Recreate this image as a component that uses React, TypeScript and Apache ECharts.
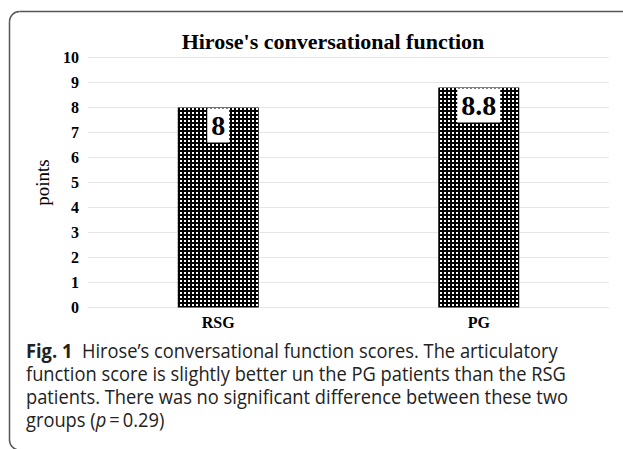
import React, { useEffect, useRef } from "react";
import * as echarts from "echarts";

const categories = ["RSG", "PG"];
const scores = [8, 8.8];
const yTicks = [0, 10, 1]; // min, max, interval
const titleText = "Hirose's conversational function";
const yName = "points";
const captionLines = [
  "{b|Fig. 1}  Hirose\u2019s conversational function scores. The articulatory",
  "function score is slightly better un the PG patients than the RSG",
  "patients. There was no significant difference between these two",
  "groups ({i|p}\u2009=\u20090.29)",
];

export default function App() {
  const ref = useRef<HTMLDivElement>(null);
  useEffect(() => {
    if (!ref.current) return;
    const chart = echarts.init(ref.current, null, { renderer: "svg" });
    const serif = "Liberation Serif";
    const sans = "Open Sans";
    const capY = [351, 374, 397, 420];
    const capScale = 0.915;
    const capSize = 20;
    const frame = { stroke: "#555", lineWidth: 1.5, fill: "none" };
    chart.setOption({
      animation: false,
      backgroundColor: "#fff",
      title: {
        text: titleText,
        left: 328,
        top: 25,
        textAlign: "center",
        textStyle: { fontFamily: serif, fontWeight: "bold", fontSize: 22, color: "#000" },
      },
      grid: { left: 88, right: 14, top: 57.5, bottom: 141.5 },
      xAxis: {
        type: "category",
        data: categories,
        axisLine: { show: true, lineStyle: { color: "#e6e6e6" } },
        axisTick: { show: false },
        axisLabel: { fontFamily: serif, fontWeight: "bold", fontSize: 16, color: "#000", margin: 7 },
      },
      yAxis: {
        type: "value",
        min: yTicks[0],
        max: yTicks[1],
        interval: yTicks[2],
        name: yName,
        nameLocation: "middle",
        nameGap: 35,
        nameTextStyle: { fontFamily: serif, fontSize: 19, color: "#000" },
        axisLine: { show: false },
        axisTick: { show: false },
        splitLine: { lineStyle: { color: "#e6e6e6" } },
        axisLabel: { fontFamily: serif, fontWeight: "bold", fontSize: 16, color: "#000", margin: 9 },
      },
      series: [
        {
          type: "bar",
          data: scores,
          barWidth: 81,
          itemStyle: {
            color: "#000",
            decal: {
              symbol: "rect",
              symbolSize: 1,
              color: "#fff",
              dashArrayX: [1.5, 1.5],
              dashArrayY: [1.5, 1.5],
              rotation: 0,
            },
          },
          label: {
            show: true,
            position: "insideTop",
            distance: 1,
            fontFamily: serif,
            fontWeight: "bold",
            fontSize: 28,
            color: "#000",
            backgroundColor: "#fff",
            padding: [3, 4, 3, 4],
          },
        },
      ],
      graphic: [
        {
          type: "line",
          shape: { x1: 19.5, y1: 11.5, x2: 640, y2: 11.5 },
          style: frame,
          silent: true,
        },
        {
          type: "line",
          shape: { x1: 9.5, y1: 21.5, x2: 9.5, y2: 440 },
          style: frame,
          silent: true,
        },
        {
          type: "arc",
          shape: { cx: 19.5, cy: 21.5, r: 10, startAngle: Math.PI, endAngle: Math.PI * 1.5 },
          style: frame,
          silent: true,
        },
        {
          type: "arc",
          shape: { cx: 19.5, cy: 440, r: 10, startAngle: Math.PI / 2, endAngle: Math.PI },
          style: frame,
          silent: true,
        },
        ...captionLines.map((t, i) => ({
          type: "text",
          x: 26,
          y: capY[i],
          scaleX: capScale,
          style: {
            text: t,
            fontFamily: sans,
            fontSize: capSize,
            fill: "#222",
            textAlign: "left",
            textVerticalAlign: "middle",
            rich: {
              b: { fontFamily: sans, fontSize: capSize, fontWeight: "bold", fill: "#222" },
              i: { fontFamily: sans, fontSize: capSize, fontStyle: "italic", fill: "#222" },
            },
          },
        })),
      ],
    });
    return () => chart.dispose();
  }, []);
  return (
    <div
      ref={ref}
      style={{ position: "absolute", left: 0, top: 0, width: 623, height: 449 }}
    />
  );
}
